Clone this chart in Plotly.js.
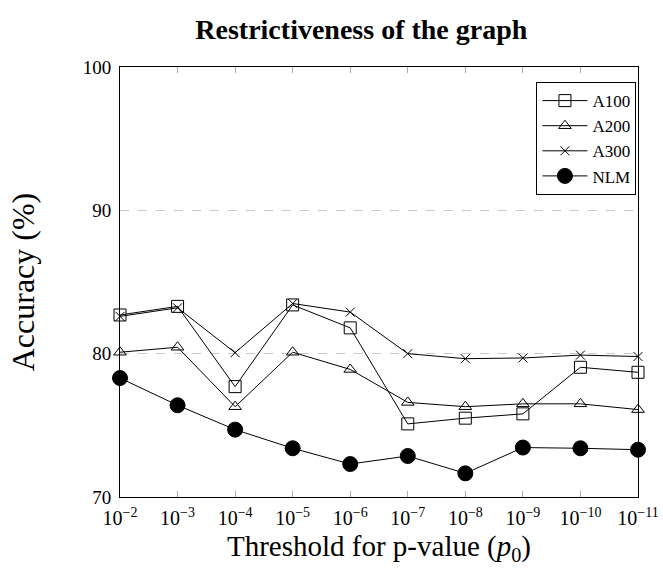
<!DOCTYPE html>
<html>
<head>
<meta charset="utf-8">
<script src="https://cdn.plot.ly/plotly-3.0.1.min.js"></script>
<style>html,body{margin:0;padding:0;background:#fff;}#chart{width:663px;height:577px;}</style>
</head>
<body>
<div id="chart"></div>
<script>
const exponents = [-2, -3, -4, -5, -6, -7, -8, -9, -10, -11];
const tickLabels = exponents.map(e => '10<sup>' + String(e).replace('-', '\u2212') + '</sup>');
const seriesNames = ['A100', 'A200', 'A300', 'NLM'];
const a100 = [82.7, 83.3, 77.7, 83.4, 81.8, 75.1, 75.5, 75.8, 79.05, 78.7];
const a200 = [80.1, 80.45, 76.3, 80.1, 78.9, 76.6, 76.3, 76.5, 76.5, 76.1];
const a300 = [82.6, 83.2, 80.07, 83.5, 82.9, 80.0, 79.65, 79.7, 79.9, 79.8];
const nlm = [78.3, 76.4, 74.7, 73.4, 72.3, 72.86, 71.65, 73.45, 73.4, 73.3];
const yTicks = [70, 80, 90, 100];

const serif = 'Liberation Serif, Times New Roman, serif';
const styles = [
  {symbol: 'square-open', size: 12},
  {symbol: 'triangle-up-open', size: 11},
  {symbol: 'x-thin-open', size: 9},
  {symbol: 'circle', size: 15}
];
const data = [a100, a200, a300, nlm].map((vals, i) => ({
  type: 'scatter',
  mode: 'lines+markers',
  name: seriesNames[i],
  x: tickLabels,
  y: vals,
  line: {color: 'black', width: 1},
  marker: {symbol: styles[i].symbol, size: styles[i].size, color: 'black', line: {color: 'black', width: 1}},
  cliponaxis: false
}));

const layout = {
  width: 663, height: 577,
  margin: {l: 120, r: 25, t: 67, b: 80},
  paper_bgcolor: 'white', plot_bgcolor: 'white',
  title: {text: '<b>Restrictiveness of the graph</b>', font: {family: serif, size: 28, color: 'black'}, x: 0.545, xanchor: 'center', y: 0.95, yanchor: 'middle'},
  xaxis: {
    type: 'category', range: [0, 9],
    showline: true, linecolor: 'black', linewidth: 1, mirror: 'ticks',
    ticks: 'inside', ticklen: 6, tickcolor: '#aaa', tickwidth: 1,
    showgrid: false, zeroline: false,
    tickfont: {family: serif, size: 20, color: 'black'},
    ticklabelstandoff: 3,
    title: {text: 'Threshold for p-value (<i>p</i><sub>0</sub>)', font: {family: serif, size: 29, color: 'black'}, standoff: 7}
  },
  yaxis: {
    range: [70, 100], tickvals: yTicks, ticktext: yTicks.map(String),
    showline: true, linecolor: 'black', linewidth: 1, mirror: true,
    ticks: '', showgrid: true, gridcolor: '#c8c8c8', griddash: 'dash', gridwidth: 1, zeroline: false,
    tickfont: {family: serif, size: 19, color: 'black'},
    ticklabelstandoff: 4,
    title: {text: 'Accuracy (%)', font: {family: serif, size: 32, color: 'black'}, standoff: 38}
  },
  legend: {
    x: 0.997, y: 0.965, xanchor: 'right', yanchor: 'top',
    bgcolor: 'white', bordercolor: 'black', borderwidth: 1,
    font: {family: serif, size: 17, color: 'black'},
    tracegroupgap: 0, itemwidth: 45
  },
  showlegend: true
};
Plotly.newPlot('chart', data, layout, {displayModeBar: false, staticPlot: true});
</script>
</body>
</html>
